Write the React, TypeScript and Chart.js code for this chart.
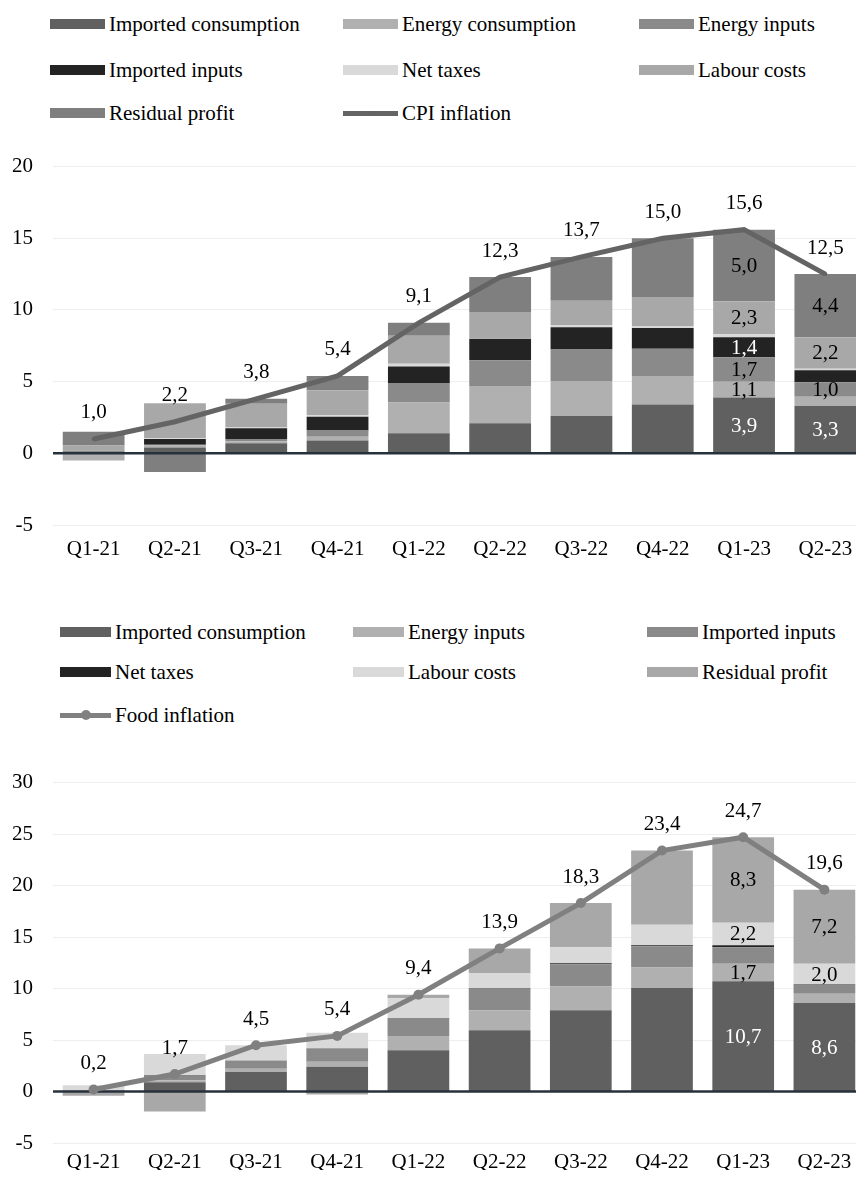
import React, { useEffect, useRef } from "react";
import { Chart, registerables } from "chart.js";

Chart.register(...registerables);

const FONT = "'Liberation Serif', 'Times New Roman', serif";

const quarters = ["Q1-21", "Q2-21", "Q3-21", "Q4-21", "Q1-22", "Q2-22", "Q3-22", "Q4-22", "Q1-23", "Q2-23"];

// CPI inflation decomposition, percentage points
const cpiImportedConsumption = [0.1, 0.4, 0.7, 0.9, 1.4, 2.1, 2.6, 3.4, 3.9, 3.3];
const cpiEnergyConsumption = [-0.5, 0.15, 0.15, 0.25, 2.15, 2.6, 2.45, 2.0, 1.1, 0.65];
const cpiEnergyInputs = [0.1, 0.05, 0.15, 0.45, 1.35, 1.8, 2.2, 1.9, 1.7, 1.0];
const cpiImportedInputs = [0, 0.4, 0.75, 0.95, 1.15, 1.5, 1.55, 1.45, 1.4, 0.85];
const cpiNetTaxes = [0, 0.05, 0.05, 0.1, 0.2, 0.05, 0.15, 0.1, 0.2, 0.1];
const cpiLabourCosts = [0.35, 2.45, 1.65, 1.75, 1.95, 1.8, 1.7, 2.05, 2.3, 2.2];
const cpiResidualProfit = [0.95, -1.3, 0.35, 1.0, 0.9, 2.45, 3.05, 4.1, 5.0, 4.4];
const cpiInflation = [1.0, 2.2, 3.8, 5.4, 9.1, 12.3, 13.7, 15.0, 15.6, 12.5];
const cpiAxis = { min: -5, max: 20, step: 5 };
// [component index, quarter index] of segments that carry a value label
const cpiSegmentLabels = [[0, 8], [1, 8], [2, 8], [3, 8], [5, 8], [6, 8], [0, 9], [2, 9], [5, 9], [6, 9]];

// Food inflation decomposition, percentage points
const foodImportedConsumption = [0.05, 0.9, 1.9, 2.4, 4.0, 5.95, 7.9, 10.05, 10.7, 8.6];
const foodEnergyInputs = [0, 0.2, 0.3, 0.5, 1.4, 1.95, 2.3, 2.0, 1.7, 0.9];
const foodImportedInputs = [0.05, 0.4, 0.8, 1.3, 1.7, 2.05, 2.15, 2.05, 1.6, 0.8];
const foodNetTaxes = [0, 0.05, 0, 0, 0.05, 0.05, 0.1, 0.1, 0.2, 0.1];
const foodLabourCosts = [0.5, 2.1, 1.5, 1.5, 1.9, 1.5, 1.55, 2.0, 2.2, 2.0];
const foodResidualProfit = [-0.4, -1.95, 0, -0.3, 0.35, 2.4, 4.3, 7.2, 8.3, 7.2];
const foodInflation = [0.2, 1.7, 4.5, 5.4, 9.4, 13.9, 18.3, 23.4, 24.7, 19.6];
const foodAxis = { min: -5, max: 30, step: 5 };
const foodSegmentLabels = [[0, 8], [1, 8], [4, 8], [5, 8], [0, 9], [4, 9], [5, 9]];

type Series = { label: string; data: number[]; color: string; text: string };

const cpiSeries: Series[] = [
  { label: "Imported consumption", data: cpiImportedConsumption, color: "#606060", text: "#ffffff" },
  { label: "Energy consumption", data: cpiEnergyConsumption, color: "#b0b0b0", text: "#000000" },
  { label: "Energy inputs", data: cpiEnergyInputs, color: "#8a8a8a", text: "#000000" },
  { label: "Imported inputs", data: cpiImportedInputs, color: "#232323", text: "#ffffff" },
  { label: "Net taxes", data: cpiNetTaxes, color: "#d9d9d9", text: "#000000" },
  { label: "Labour costs", data: cpiLabourCosts, color: "#a8a8a8", text: "#000000" },
  { label: "Residual profit", data: cpiResidualProfit, color: "#7f7f7f", text: "#000000" },
];

const foodSeries: Series[] = [
  { label: "Imported consumption", data: foodImportedConsumption, color: "#606060", text: "#ffffff" },
  { label: "Energy inputs", data: foodEnergyInputs, color: "#b0b0b0", text: "#000000" },
  { label: "Imported inputs", data: foodImportedInputs, color: "#8a8a8a", text: "#000000" },
  { label: "Net taxes", data: foodNetTaxes, color: "#232323", text: "#ffffff" },
  { label: "Labour costs", data: foodLabourCosts, color: "#d9d9d9", text: "#000000" },
  { label: "Residual profit", data: foodResidualProfit, color: "#a8a8a8", text: "#000000" },
];

const fmt = (v: number) => v.toFixed(1).replace(".", ",");

type ChartSpec = {
  series: Series[];
  line: number[];
  lineLabel: string;
  lineColor: string;
  pointRadius: number;
  axis: { min: number; max: number; step: number };
  segmentLabels: number[][];
  padTop: number;
  padBottom: number;
  tickPad: number;
  height: number;
};

const overlayPlugin = {
  id: "overlay",
  beforeDatasetDraw(chart: any, args: any) {
    if (args.meta.type !== "line") return;
    const { ctx, chartArea, scales } = chart;
    const y0 = scales.y.getPixelForValue(0);
    ctx.save();
    ctx.strokeStyle = "#27313c";
    ctx.lineWidth = 2.5;
    ctx.beginPath();
    ctx.moveTo(chartArea.left, y0);
    ctx.lineTo(chartArea.right, y0);
    ctx.stroke();
    ctx.restore();
  },
  afterDatasetsDraw(chart: any, _args: any, opts: any) {
    const { ctx } = chart;
    ctx.save();
    ctx.font = `21px ${FONT}`;
    ctx.textAlign = "center";
    ctx.textBaseline = "middle";
    // values above the inflation line
    const lineMeta = chart.getDatasetMeta(0);
    lineMeta.data.forEach((pt: any, i: number) => {
      ctx.fillStyle = "#000000";
      ctx.fillText(fmt(chart.data.datasets[0].data[i]), pt.x, pt.y - 26);
    });
    // values inside selected bar segments
    (opts.segmentLabels as number[][]).forEach(([si, qi]) => {
      const el = chart.getDatasetMeta(si + 1).data[qi];
      const v = chart.data.datasets[si + 1].data[qi];
      ctx.fillStyle = opts.textColors[si];
      ctx.fillText(fmt(v), el.x, (el.y + el.base) / 2 + 1);
    });
    ctx.restore();
  },
};

function StackChart({ spec }: { spec: ChartSpec }) {
  const ref = useRef<HTMLCanvasElement | null>(null);
  useEffect(() => {
    if (!ref.current) return;
    const chart = new Chart(ref.current, {
      type: "bar",
      data: {
        labels: quarters,
        datasets: [
          {
            type: "line",
            label: spec.lineLabel,
            data: spec.line,
            borderColor: spec.lineColor,
            backgroundColor: spec.lineColor,
            borderWidth: 5,
            pointRadius: spec.pointRadius,
            pointBackgroundColor: spec.lineColor,
            pointBorderWidth: 0,
            tension: 0,
            stack: "line",
            order: -1,
          } as any,
          ...spec.series.map((s) => ({
            type: "bar",
            label: s.label,
            data: s.data,
            backgroundColor: s.color,
            borderWidth: 0,
            stack: "parts",
            categoryPercentage: 1,
            barPercentage: 0.76,
          })),
        ],
      },
      options: {
        responsive: false,
        animation: false,
        layout: { padding: { top: spec.padTop, bottom: spec.padBottom, left: 0, right: 0 } },
        plugins: {
          legend: { display: false },
          tooltip: { enabled: false },
          overlay: {
            segmentLabels: spec.segmentLabels,
            textColors: spec.series.map((s) => s.text),
          },
        } as any,
        scales: {
          x: {
            stacked: true,
            grid: { display: false, drawTicks: false },
            border: { display: false },
            ticks: { color: "#000000", font: { family: FONT, size: 21 }, padding: spec.tickPad, maxRotation: 0 },
            afterFit: (scale: any) => {
              scale.height = spec.tickPad + 26;
            },
          },
          y: {
            stacked: true,
            min: spec.axis.min,
            max: spec.axis.max,
            grid: { color: "#eeeeee", lineWidth: 1, drawTicks: false },
            border: { display: false },
            ticks: { stepSize: spec.axis.step, color: "#000000", font: { family: FONT, size: 21 }, padding: 20 },
            afterFit: (scale: any) => {
              scale.width = 53;
            },
          },
        },
      },
      plugins: [overlayPlugin],
    });
    return () => chart.destroy();
  }, [spec]);
  return <canvas ref={ref} width={870} height={spec.height} style={{ display: "block" }} />;
}

type LegendItem = { label: string; color: string; line?: boolean; marker?: number };

function Legend({ items, colX, rowY, boxW }: { items: LegendItem[]; colX: number[]; rowY: number[]; boxW: number }) {
  return (
    <>
      {items.map((it, i) => {
        const left = colX[i % 3];
        const top = rowY[Math.floor(i / 3)];
        return (
          <div
            key={it.label}
            style={{
              position: "absolute",
              left,
              top: top - 13,
              height: 26,
              display: "flex",
              alignItems: "center",
              fontFamily: FONT,
              fontSize: 21,
              color: "#000",
              whiteSpace: "nowrap",
            }}
          >
            <div style={{ position: "relative", width: boxW, height: it.line ? 5 : 10, background: it.color, marginRight: 4 }}>
              {it.marker ? (
                <div
                  style={{
                    position: "absolute",
                    left: boxW / 2 - it.marker / 2,
                    top: 2.5 - it.marker / 2,
                    width: it.marker,
                    height: it.marker,
                    borderRadius: "50%",
                    background: it.color,
                  }}
                />
              ) : null}
            </div>
            <span>{it.label}</span>
          </div>
        );
      })}
    </>
  );
}

const cpiSpec: ChartSpec = {
  series: cpiSeries,
  line: cpiInflation,
  lineLabel: "CPI inflation",
  lineColor: "#646464",
  pointRadius: 2,
  axis: cpiAxis,
  segmentLabels: cpiSegmentLabels,
  padTop: 6,
  padBottom: 11,
  tickPad: 12,
  height: 440,
};

const foodSpec: ChartSpec = {
  series: foodSeries,
  line: foodInflation,
  lineLabel: "Food inflation",
  lineColor: "#808080",
  pointRadius: 5,
  axis: foodAxis,
  segmentLabels: foodSegmentLabels,
  padTop: 19,
  padBottom: 2,
  tickPad: 7,
  height: 428,
};

export default function App() {
  const cpiLegend: LegendItem[] = [
    ...cpiSeries.map((s) => ({ label: s.label, color: s.color })),
    { label: "CPI inflation", color: "#646464", line: true, marker: 4 },
  ];
  const foodLegend: LegendItem[] = [
    ...foodSeries.map((s) => ({ label: s.label, color: s.color })),
    { label: "Food inflation", color: "#808080", line: true, marker: 10 },
  ];
  return (
    <div style={{ position: "relative", width: 864, height: 1178, margin: -8, overflow: "hidden", background: "#fff" }}>
      <Legend items={cpiLegend} colX={[50, 343, 639]} rowY={[24, 70, 113]} boxW={55} />
      <div style={{ position: "absolute", left: 0, top: 134 }}>
        <StackChart spec={cpiSpec} />
      </div>
      <Legend items={foodLegend} colX={[60, 353, 647]} rowY={[632, 672, 715]} boxW={51} />
      <div style={{ position: "absolute", left: 0, top: 750 }}>
        <StackChart spec={foodSpec} />
      </div>
    </div>
  );
}
